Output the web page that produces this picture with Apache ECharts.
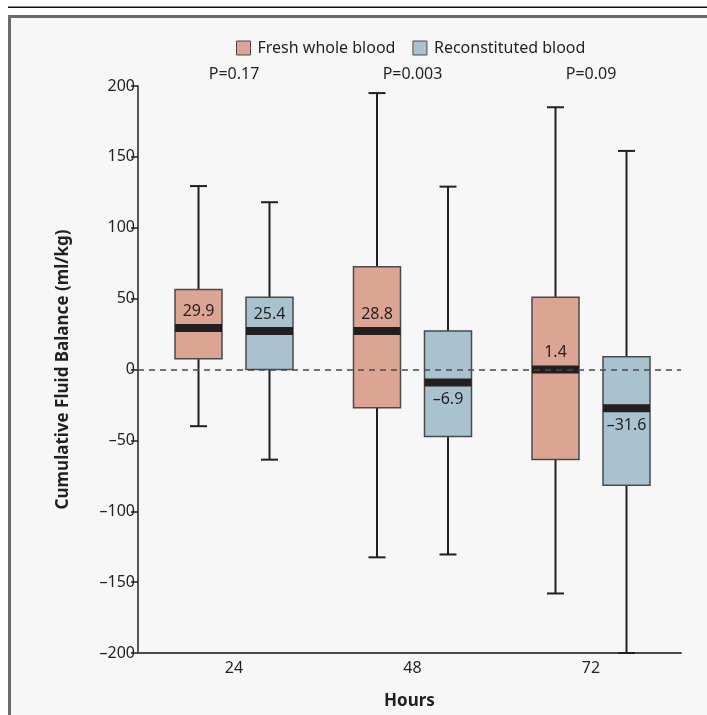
<!DOCTYPE html>
<html>
<head>
<meta charset="utf-8">
<script src="https://cdn.jsdelivr.net/npm/echarts@6/dist/echarts.min.js"></script>
<style>html,body{margin:0;padding:0;background:#fff}#c{width:707px;height:715px}</style>
</head>
<body>
<div id="c"></div>
<script>
// ---- data ----
var hours = [24, 48, 72];
var hourLabels = ['24', '48', '72'];
var pValues = ['P=0.17', 'P=0.003', 'P=0.09'];

var freshMin = [-40, -132.5, -158];
var freshQ1 = [7.5, -27, -63.5];
var freshMedian = [29.3, 27.2, 0];
var freshQ3 = [56.4, 72.5, 51];
var freshMax = [129.4, 195, 185];
var freshLabels = ['29.9', '28.8', '1.4'];

var blueMin = [-63.6, -130.5, -200];
var blueQ1 = [0, -47.2, -81.7];
var blueMedian = [27.2, -9.2, -27.4];
var blueQ3 = [50.9, 27.2, 9];
var blueMax = [118, 129, 154.2];
var blueLabels = ['25.4', '–6.9', '–31.6'];

// ---- styling ----
var FONT = 'Noto Sans';
var TXT = '#231f20';
var FS = 16;
var BOXW = 47, OFF = 35.5, CAP = 17;

function buildData(mn, q1, md, q3, mx) {
  return hours.map(function (h, i) { return [h, mn[i], q1[i], md[i], q3[i], mx[i]]; });
}

function makeRender(fill, dx, labels) {
  return function (params, api) {
    var h = api.value(0);
    var pMin = api.coord([h, api.value(1)]);
    var pQ1 = api.coord([h, api.value(2)]);
    var pMd = api.coord([h, api.value(3)]);
    var pQ3 = api.coord([h, api.value(4)]);
    var pMax = api.coord([h, api.value(5)]);
    var cx = pMin[0] + dx;
    var label = labels[params.dataIndex];
    var med = api.value(3);
    var ls = { stroke: '#231f20', lineWidth: 2 };
    return {
      type: 'group',
      children: [
        { type: 'line', shape: { x1: cx, y1: pQ3[1], x2: cx, y2: pMax[1] }, style: ls },
        { type: 'line', shape: { x1: cx, y1: pQ1[1], x2: cx, y2: pMin[1] }, style: ls },
        { type: 'line', shape: { x1: cx - CAP / 2, y1: pMax[1], x2: cx + CAP / 2, y2: pMax[1] }, style: ls },
        { type: 'line', shape: { x1: cx - CAP / 2, y1: pMin[1], x2: cx + CAP / 2, y2: pMin[1] }, style: ls },
        { type: 'rect', shape: { x: cx - BOXW / 2, y: pQ3[1], width: BOXW, height: pQ1[1] - pQ3[1] },
          style: { fill: fill, stroke: '#4a4a4a', lineWidth: 1.5 } },
        { type: 'rect', shape: { x: cx - BOXW / 2, y: pMd[1] - 4, width: BOXW, height: 8 },
          style: { fill: '#231f20' } },
        { type: 'text', x: cx, y: pMd[1] + (med >= 0 ? -17 : 17),
          style: { text: label, fill: TXT, font: FS + 'px "' + FONT + '"', align: 'center', verticalAlign: 'middle' } }
      ]
    };
  };
}

var chart = echarts.init(document.getElementById('c'), null, { renderer: 'canvas' });
var option = {
  backgroundColor: '#f7f7f7',
  animation: false,
  textStyle: { fontFamily: FONT, color: TXT },
  graphic: [
    { type: 'rect', shape: { x: 0, y: 0, width: 707, height: 15 }, style: { fill: '#ffffff' }, silent: true },
    { type: 'rect', shape: { x: 0, y: 0, width: 8, height: 715 }, style: { fill: '#ffffff' }, silent: true },
    { type: 'rect', shape: { x: 8, y: 15, width: 699, height: 3 }, style: { fill: '#6b6b6b' }, silent: true },
    { type: 'rect', shape: { x: 8, y: 15, width: 3, height: 700 }, style: { fill: '#6b6b6b' }, silent: true },
    { type: 'rect', shape: { x: 8, y: 6.5, width: 699, height: 1.5 }, style: { fill: '#111' }, silent: true }
  ],
  legend: {
    left: 236, top: 40, padding: 0,
    itemWidth: 14, itemHeight: 14, itemGap: 17,
    icon: 'rect',
    textStyle: { fontFamily: FONT, fontSize: FS, color: TXT, padding: [0, 0, 0, 2] },
    data: [
      { name: 'Fresh whole blood', itemStyle: { color: '#dca593', borderColor: '#4a4a4a', borderWidth: 1 } },
      { name: 'Reconstituted blood', itemStyle: { color: '#a9c2cf', borderColor: '#4a4a4a', borderWidth: 1 } }
    ]
  },
  grid: { left: 138, right: 26, top: 86, bottom: 55, containLabel: false },
  xAxis: {
    type: 'value', min: 11.092, max: 84.101,
    name: 'Hours', nameLocation: 'middle', nameGap: 40,
    nameTextStyle: { fontFamily: FONT, fontSize: 17, fontWeight: 'bold', color: TXT },
    axisLine: { show: true, onZero: false, lineStyle: { color: '#4a4a4a', width: 2 } },
    axisTick: { show: false },
    splitLine: { show: false },
    axisLabel: {
      customValues: hours,
      formatter: function (v) { var i = hours.indexOf(v); return i >= 0 ? hourLabels[i] : ''; },
      fontFamily: FONT, fontSize: FS, color: TXT, margin: 7
    }
  },
  yAxis: {
    type: 'value', min: -200, max: 200, interval: 50,
    name: 'Cumulative Fluid Balance (ml/kg)', nameLocation: 'middle', nameGap: 66, nameRotate: 90,
    nameTextStyle: { fontFamily: FONT, fontSize: 17, fontWeight: 'bold', color: TXT },
    axisLine: { show: true, lineStyle: { color: '#231f20', width: 1.5 } },
    axisTick: { show: true, length: 7, lineStyle: { color: '#231f20', width: 1.5 } },
    splitLine: { show: false },
    axisLabel: {
      fontFamily: FONT, fontSize: FS, color: TXT, margin: 3,
      formatter: function (v) { return String(v).replace('-', '–'); }
    }
  },
  series: [
    {
      name: 'zero', type: 'line', data: [], z: 1, silent: true,
      markLine: {
        silent: true, symbol: 'none', label: { show: false },
        lineStyle: { color: '#4a4a4a', type: [6, 5], width: 1.5 },
        data: [{ yAxis: 0 }]
      }
    },
    {
      name: 'Fresh whole blood', type: 'custom', z: 3,
      itemStyle: { color: '#dca593', borderColor: '#4a4a4a', borderWidth: 1 },
      renderItem: makeRender('#dca593', -OFF, freshLabels),
      encode: { x: 0, y: [1, 2, 3, 4, 5] },
      data: buildData(freshMin, freshQ1, freshMedian, freshQ3, freshMax),
      clip: false
    },
    {
      name: 'Reconstituted blood', type: 'custom', z: 3,
      itemStyle: { color: '#a9c2cf', borderColor: '#4a4a4a', borderWidth: 1 },
      renderItem: makeRender('#a9c2cf', OFF, blueLabels),
      encode: { x: 0, y: [1, 2, 3, 4, 5] },
      data: buildData(blueMin, blueQ1, blueMedian, blueQ3, blueMax),
      clip: false
    },
    {
      name: 'pvalues', type: 'custom', z: 3, silent: true,
      renderItem: function (params, api) {
        var p = api.coord([api.value(0), 200]);
        return { type: 'text', x: p[0], y: p[1] - 12,
          style: { text: pValues[params.dataIndex], fill: TXT, font: FS + 'px "' + FONT + '"', align: 'center', verticalAlign: 'middle' } };
      },
      encode: { x: 0 },
      data: hours.map(function (h) { return [h]; }),
      clip: false
    }
  ]
};
chart.setOption(option);
</script>
</body>
</html>
